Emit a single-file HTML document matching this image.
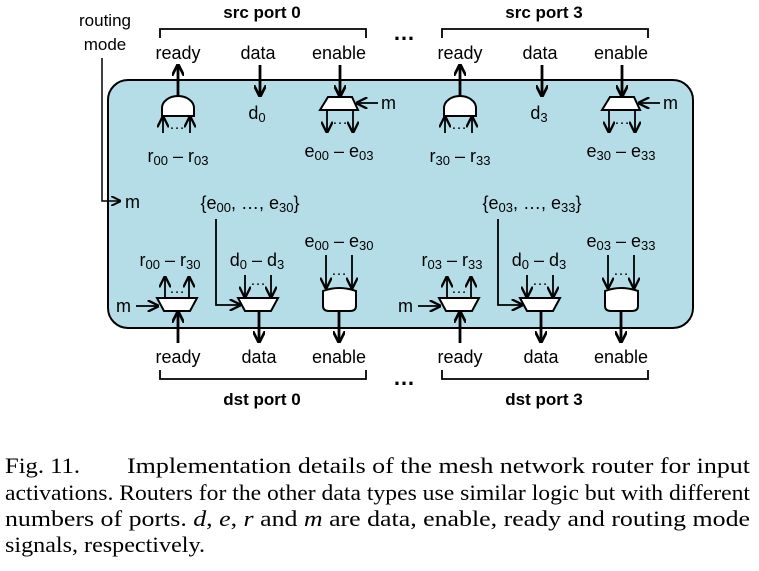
<!DOCTYPE html>
<html><head><meta charset="utf-8"><style>
html,body{margin:0;padding:0;background:#fff}
svg text{font-family:"Liberation Sans",sans-serif;fill:#000}
.c{font-family:"Liberation Serif",serif;font-size:22.5px}
</style></head><body>
<svg width="759" height="566" viewBox="0 0 759 566" xmlns="http://www.w3.org/2000/svg">
<defs>
<marker id="a" viewBox="0 0 10 10" refX="9" refY="5" markerWidth="4.4" markerHeight="4.4" orient="auto"><path d="M0,0 L10,5 L0,10" fill="none" stroke="#000" stroke-width="2.2"/></marker>
<marker id="b" viewBox="0 0 10 10" refX="9" refY="5" markerWidth="6.5" markerHeight="6.5" orient="auto"><path d="M0,0 L10,5 L0,10" fill="none" stroke="#000" stroke-width="2"/></marker>
</defs>
<rect x="108" y="80" width="585" height="248" rx="20" fill="#b5dde7" stroke="#000" stroke-width="2"/>
<text x="105" y="26" font-size="17" text-anchor="middle">routing</text>
<text x="105" y="50" font-size="17" text-anchor="middle">mode</text>
<path d="M102,58 V201 H120" fill="none" stroke="#000" stroke-width="1.5" marker-end="url(#b)"/>
<text x="125" y="208" font-size="18">m</text>
<text x="404" y="40" font-size="22" font-weight="bold" text-anchor="middle">…</text>
<text x="404" y="385" font-size="22" font-weight="bold" text-anchor="middle">…</text>

<g id="p0">
<text x="262" y="18" font-size="17" font-weight="bold" text-anchor="middle">src port 0</text>
<path d="M160,38 V29 H366 V38" fill="none" stroke="#000" stroke-width="1.8"/>
<text x="178" y="59" font-size="18" text-anchor="middle">ready</text>
<text x="258" y="59" font-size="18" text-anchor="middle">data</text>
<text x="339" y="59" font-size="18" text-anchor="middle">enable</text>
<line x1="178" y1="98" x2="178" y2="65" stroke="#000" stroke-width="2.8" marker-end="url(#a)"/>
<path d="M162,116 V108 A16,12 0 0 1 194,108 V116 Z" fill="#fff" stroke="#000" stroke-width="2"/>
<line x1="163" y1="133" x2="163" y2="117" stroke="#000" stroke-width="1.8" marker-end="url(#b)"/>
<line x1="190" y1="133" x2="190" y2="117" stroke="#000" stroke-width="1.8" marker-end="url(#b)"/>
<text x="177" y="129" font-size="16" text-anchor="middle">…</text>
<text x="178" y="162" font-size="18" text-anchor="middle">r<tspan font-size="13" dy="3">00</tspan><tspan dy="-3"> – r</tspan><tspan font-size="13" dy="3">03</tspan></text>
<line x1="260" y1="65" x2="260" y2="96" stroke="#000" stroke-width="2.8" marker-end="url(#a)"/>
<text x="257" y="119" font-size="18" text-anchor="middle">d<tspan font-size="13" dy="3">0</tspan></text>
<line x1="340" y1="65" x2="340" y2="96" stroke="#000" stroke-width="2.8" marker-end="url(#a)"/>
<path d="M328,97 H352 L358,110 H320 Z" fill="#fff" stroke="#000" stroke-width="2"/>
<line x1="378" y1="103" x2="357" y2="103" stroke="#000" stroke-width="1.8" marker-end="url(#b)"/>
<text x="381" y="109" font-size="18">m</text>
<line x1="327" y1="110" x2="327" y2="132" stroke="#000" stroke-width="1.8" marker-end="url(#b)"/>
<line x1="353" y1="110" x2="353" y2="132" stroke="#000" stroke-width="1.8" marker-end="url(#b)"/>
<text x="340" y="124" font-size="16" text-anchor="middle">…</text>
<text x="339" y="157" font-size="18" text-anchor="middle">e<tspan font-size="13" dy="3">00</tspan><tspan dy="-3"> – e</tspan><tspan font-size="13" dy="3">03</tspan></text>
<text x="250" y="209" font-size="18" text-anchor="middle">{e<tspan font-size="13" dy="3">00</tspan><tspan dy="-3">, …, e</tspan><tspan font-size="13" dy="3">30</tspan><tspan dy="-3">}</tspan></text>
<path d="M216,219 V305 H240" fill="none" stroke="#000" stroke-width="1.8" marker-end="url(#b)"/>
<text x="170" y="266" font-size="18" text-anchor="middle">r<tspan font-size="13" dy="3">00</tspan><tspan dy="-3"> – r</tspan><tspan font-size="13" dy="3">30</tspan></text>
<path d="M157,298 H197 L190,311 H164 Z" fill="#fff" stroke="#000" stroke-width="2"/>
<line x1="165" y1="298" x2="165" y2="277" stroke="#000" stroke-width="1.8" marker-end="url(#b)"/>
<line x1="189" y1="298" x2="189" y2="277" stroke="#000" stroke-width="1.8" marker-end="url(#b)"/>
<text x="177" y="293" font-size="16" text-anchor="middle">…</text>
<line x1="136" y1="306" x2="158" y2="306" stroke="#000" stroke-width="1.8" marker-end="url(#b)"/>
<text x="116" y="312" font-size="18">m</text>
<line x1="178" y1="343" x2="178" y2="312" stroke="#000" stroke-width="2.8" marker-end="url(#a)"/>
<text x="257" y="266" font-size="18" text-anchor="middle">d<tspan font-size="13" dy="3">0</tspan><tspan dy="-3"> – d</tspan><tspan font-size="13" dy="3">3</tspan></text>
<path d="M238,298 H278 L271,311 H245 Z" fill="#fff" stroke="#000" stroke-width="2"/>
<line x1="245" y1="275" x2="245" y2="297" stroke="#000" stroke-width="1.8" marker-end="url(#b)"/>
<line x1="271" y1="275" x2="271" y2="297" stroke="#000" stroke-width="1.8" marker-end="url(#b)"/>
<text x="258" y="285" font-size="16" text-anchor="middle">…</text>
<line x1="259" y1="311" x2="259" y2="342" stroke="#000" stroke-width="2.8" marker-end="url(#a)"/>
<text x="339" y="247" font-size="18" text-anchor="middle">e<tspan font-size="13" dy="3">00</tspan><tspan dy="-3"> – e</tspan><tspan font-size="13" dy="3">30</tspan></text>
<line x1="326" y1="255" x2="326" y2="288" stroke="#000" stroke-width="1.8" marker-end="url(#b)"/>
<line x1="352" y1="255" x2="352" y2="288" stroke="#000" stroke-width="1.8" marker-end="url(#b)"/>
<text x="339" y="275" font-size="16" text-anchor="middle">…</text>
<path d="M323,291 Q339,285 356,291 V306 Q356,311 350,311 H329 Q323,311 323,306 Z" fill="#fff" stroke="#000" stroke-width="2"/>
<line x1="339" y1="311" x2="339" y2="342" stroke="#000" stroke-width="2.8" marker-end="url(#a)"/>
<text x="178" y="363" font-size="18" text-anchor="middle">ready</text>
<text x="259" y="363" font-size="18" text-anchor="middle">data</text>
<text x="339" y="363" font-size="18" text-anchor="middle">enable</text>
<path d="M160,370 V379 H366 V370" fill="none" stroke="#000" stroke-width="1.8"/>
<text x="262" y="405" font-size="17" font-weight="bold" text-anchor="middle">dst port 0</text>
</g>

<g transform="translate(282,0)">
<text x="262" y="18" font-size="17" font-weight="bold" text-anchor="middle">src port 3</text>
<path d="M160,38 V29 H366 V38" fill="none" stroke="#000" stroke-width="1.8"/>
<text x="178" y="59" font-size="18" text-anchor="middle">ready</text>
<text x="258" y="59" font-size="18" text-anchor="middle">data</text>
<text x="339" y="59" font-size="18" text-anchor="middle">enable</text>
<line x1="178" y1="98" x2="178" y2="65" stroke="#000" stroke-width="2.8" marker-end="url(#a)"/>
<path d="M162,116 V108 A16,12 0 0 1 194,108 V116 Z" fill="#fff" stroke="#000" stroke-width="2"/>
<line x1="163" y1="133" x2="163" y2="117" stroke="#000" stroke-width="1.8" marker-end="url(#b)"/>
<line x1="190" y1="133" x2="190" y2="117" stroke="#000" stroke-width="1.8" marker-end="url(#b)"/>
<text x="177" y="129" font-size="16" text-anchor="middle">…</text>
<text x="178" y="162" font-size="18" text-anchor="middle">r<tspan font-size="13" dy="3">30</tspan><tspan dy="-3"> – r</tspan><tspan font-size="13" dy="3">33</tspan></text>
<line x1="260" y1="65" x2="260" y2="96" stroke="#000" stroke-width="2.8" marker-end="url(#a)"/>
<text x="257" y="119" font-size="18" text-anchor="middle">d<tspan font-size="13" dy="3">3</tspan></text>
<line x1="340" y1="65" x2="340" y2="96" stroke="#000" stroke-width="2.8" marker-end="url(#a)"/>
<path d="M328,97 H352 L358,110 H320 Z" fill="#fff" stroke="#000" stroke-width="2"/>
<line x1="378" y1="103" x2="357" y2="103" stroke="#000" stroke-width="1.8" marker-end="url(#b)"/>
<text x="381" y="109" font-size="18">m</text>
<line x1="327" y1="110" x2="327" y2="132" stroke="#000" stroke-width="1.8" marker-end="url(#b)"/>
<line x1="353" y1="110" x2="353" y2="132" stroke="#000" stroke-width="1.8" marker-end="url(#b)"/>
<text x="340" y="124" font-size="16" text-anchor="middle">…</text>
<text x="339" y="157" font-size="18" text-anchor="middle">e<tspan font-size="13" dy="3">30</tspan><tspan dy="-3"> – e</tspan><tspan font-size="13" dy="3">33</tspan></text>
<text x="250" y="209" font-size="18" text-anchor="middle">{e<tspan font-size="13" dy="3">03</tspan><tspan dy="-3">, …, e</tspan><tspan font-size="13" dy="3">33</tspan><tspan dy="-3">}</tspan></text>
<path d="M216,219 V305 H240" fill="none" stroke="#000" stroke-width="1.8" marker-end="url(#b)"/>
<text x="170" y="266" font-size="18" text-anchor="middle">r<tspan font-size="13" dy="3">03</tspan><tspan dy="-3"> – r</tspan><tspan font-size="13" dy="3">33</tspan></text>
<path d="M157,298 H197 L190,311 H164 Z" fill="#fff" stroke="#000" stroke-width="2"/>
<line x1="165" y1="298" x2="165" y2="277" stroke="#000" stroke-width="1.8" marker-end="url(#b)"/>
<line x1="189" y1="298" x2="189" y2="277" stroke="#000" stroke-width="1.8" marker-end="url(#b)"/>
<text x="177" y="293" font-size="16" text-anchor="middle">…</text>
<line x1="136" y1="306" x2="158" y2="306" stroke="#000" stroke-width="1.8" marker-end="url(#b)"/>
<text x="116" y="312" font-size="18">m</text>
<line x1="178" y1="343" x2="178" y2="312" stroke="#000" stroke-width="2.8" marker-end="url(#a)"/>
<text x="257" y="266" font-size="18" text-anchor="middle">d<tspan font-size="13" dy="3">0</tspan><tspan dy="-3"> – d</tspan><tspan font-size="13" dy="3">3</tspan></text>
<path d="M238,298 H278 L271,311 H245 Z" fill="#fff" stroke="#000" stroke-width="2"/>
<line x1="245" y1="275" x2="245" y2="297" stroke="#000" stroke-width="1.8" marker-end="url(#b)"/>
<line x1="271" y1="275" x2="271" y2="297" stroke="#000" stroke-width="1.8" marker-end="url(#b)"/>
<text x="258" y="285" font-size="16" text-anchor="middle">…</text>
<line x1="259" y1="311" x2="259" y2="342" stroke="#000" stroke-width="2.8" marker-end="url(#a)"/>
<text x="339" y="247" font-size="18" text-anchor="middle">e<tspan font-size="13" dy="3">03</tspan><tspan dy="-3"> – e</tspan><tspan font-size="13" dy="3">33</tspan></text>
<line x1="326" y1="255" x2="326" y2="288" stroke="#000" stroke-width="1.8" marker-end="url(#b)"/>
<line x1="352" y1="255" x2="352" y2="288" stroke="#000" stroke-width="1.8" marker-end="url(#b)"/>
<text x="339" y="275" font-size="16" text-anchor="middle">…</text>
<path d="M323,291 Q339,285 356,291 V306 Q356,311 350,311 H329 Q323,311 323,306 Z" fill="#fff" stroke="#000" stroke-width="2"/>
<line x1="339" y1="311" x2="339" y2="342" stroke="#000" stroke-width="2.8" marker-end="url(#a)"/>
<text x="178" y="363" font-size="18" text-anchor="middle">ready</text>
<text x="259" y="363" font-size="18" text-anchor="middle">data</text>
<text x="339" y="363" font-size="18" text-anchor="middle">enable</text>
<path d="M160,370 V379 H366 V370" fill="none" stroke="#000" stroke-width="1.8"/>
<text x="262" y="405" font-size="17" font-weight="bold" text-anchor="middle">dst port 3</text>
</g>

<text class="c" x="5" y="473" textLength="75" lengthAdjust="spacingAndGlyphs">Fig. 11.</text>
<text class="c" x="127" y="473" textLength="623" lengthAdjust="spacingAndGlyphs">Implementation details of the mesh network router for input</text>
<text class="c" x="5" y="500" textLength="745" lengthAdjust="spacingAndGlyphs">activations. Routers for the other data types use similar logic but with different</text>
<text class="c" x="5" y="526" textLength="745" lengthAdjust="spacingAndGlyphs">numbers of ports. <tspan font-style="italic">d</tspan>, <tspan font-style="italic">e</tspan>, <tspan font-style="italic">r</tspan> and <tspan font-style="italic">m</tspan> are data, enable, ready and routing mode</text>
<text class="c" x="5" y="552" textLength="200" lengthAdjust="spacingAndGlyphs">signals, respectively.</text>
</svg>
</body></html>
